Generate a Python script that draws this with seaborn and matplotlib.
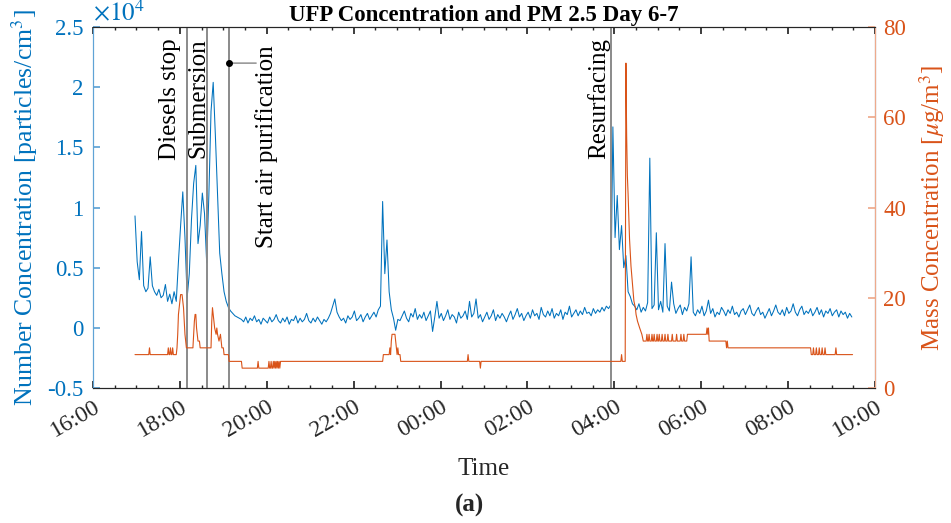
import numpy as np
import pandas as pd
import matplotlib
matplotlib.use("Agg")
import matplotlib.pyplot as plt
import matplotlib.dates as mdates
import matplotlib.transforms as mtransforms
from matplotlib.ticker import FuncFormatter, MultipleLocator
import seaborn as sns

# ---------------- data ----------------
day0 = "2021-01-06 16:00"
x_end = "2021-01-07 10:00"
ufp_start = "2021-01-06 16:58"
ufp_step_min = 3

# UFP number concentration [particles/cm^3], one value every 3 min
ufp_values = [
    9300, 5500, 4000, 8000, 3500, 3000, 3300, 5900, 3500, 3000,
    2700, 3200, 2500, 2700, 3600, 2200, 2800, 2000, 3000, 2200,
    5500, 8500, 11300, 7500, 2500, 4500, 9000, 12000, 13500, 7000,
    8500, 11200, 9500, 5400, 11000, 18000, 20400, 16000, 11000, 6200,
    4500, 3000, 2200, 1700, 1400, 1200, 1000, 900, 800,
    700, 500, 900, 400, 800, 600, 1000, 500, 700, 300,
    800, 600, 400, 900, 500, 700, 1100, 600, 400, 800,
    500, 900, 300, 700, 600, 1000, 400, 800, 500, 700,
    1200, 600, 400, 800, 500, 900, 600, 300, 700, 500,
    800, 1200, 1800, 2400, 1300, 900, 600, 800, 400, 1000,
    700, 900, 1400, 600, 800, 1100, 500, 900, 1200, 700,
    1000, 1300, 900, 1500, 1800,
    10500, 4500, 7300, 3000, 1500, 800, -200, 700,
    600, 1000, 1400, 800, 500, 1200, 900, 1600, 700, 1100,
    800, 1300, 600, 1000, 1400, -300, 900, 2200, 800, 1200,
    600, 1000, 1500, 700, 1100, 900, 400, 1300, 800, 1000,
    1400, 700, 2200, 900, 1200, 2400, 800, 1100, 500, 900,
    1300, 700, 1000, 1500, 600, 1100, 800, 1200, 900, 500,
    1000, 1400, 700, 1100, 1600, 900, 1200, 600, 1000, 1300,
    800, 1500, 1000, 1200, 700, 1700, 1100, 900, 1400, 1000,
    1600, 800, 1200, 1000, 1500, 700, 1300, 1100, 1800, 900,
    1200, 1500, 1000, 1400, 1100, 1700, 1200, 1300, 1000, 1600,
    1200, 1500, 1300, 1700, 1400, 1800, 1600,
    1900,
    16700, 7500, 11000, 6500, 8500, 5000, 6000, 3000, 2600, 2000,
    1800, 1500, 2000, 1300, 1700, 1400, 2100, 14100, 1600, 1900,
    7900, 1500, 2200, 1300, 7000, 1800, 1400, 3800, 2000, 1200,
    1600, 1900, 1100, 1700, 1400, 2000, 5900, 1300, 1000, 1500,
    1200, 1800, 1000, 1400, 2300, 1200, 1600, 900, 1300, 1100,
    1700, 1400, 1000, 1500, 1200, 1800, 1100, 1300, 900, 1400,
    1600, 1100, 1500, 1900, 1200, 1000, 1400, 1700, 1100, 1300,
    800, 1200, 1600, 1000, 1400, 1900, 1300, 1100, 1500, 1000,
    1700, 1200, 1400, 2000, 1300, 1000, 1500, 1800, 1100, 1400,
    1200, 1600, 1000, 1300, 1700, 1100, 1500, 900, 1400, 1200,
    1600, 1000, 1300, 1500, 900, 1400, 1100, 1300, 800, 1200, 900,
]

# PM2.5 mass concentration [ug/m^3]; sample minute after 16:00 and value
pm_minutes = [
    58, 77, 78, 79,
    103, 104, 105, 106, 107, 108, 109, 110, 111,
    115, 116, 117, 118, 119, 120, 121, 123, 124, 125, 126, 127, 128, 129,
    138, 139, 140, 141, 142, 143, 144, 145, 147, 148,
    163, 164, 165, 166, 167, 168, 170, 171, 172, 174, 176, 177, 178, 180, 181,
    187, 188, 205, 206,
    227, 228, 229, 242, 243, 244, 245, 246, 247, 248, 249, 250, 251, 252,
    253, 254, 255, 256, 257, 258, 259, 260,
    400, 401, 409, 410, 411, 412, 413, 417, 418, 419, 420, 421, 422, 424, 425,
    517, 518, 519, 534, 535, 536,
    729, 730, 731, 735, 736, 737, 738, 739, 740, 741, 742, 743, 744, 745,
    746, 747, 749, 750, 752, 755, 758, 760,
    764, 765, 766, 767, 768, 769, 771, 772, 773, 774, 775, 776, 778, 779, 780,
    781, 782, 783, 785, 786, 787, 789, 790, 791, 793, 794, 795, 799, 800, 801,
    805, 806, 807, 811, 812, 813, 815, 816, 817,
    820, 821, 847, 848, 849, 850, 851, 874, 875, 876, 877,
    991, 992, 994, 995, 996, 998, 999, 1000, 1002, 1003, 1004, 1006, 1007,
    1008, 1010, 1011, 1012, 1025, 1026, 1027, 1049,
]
pm_values = [
    7.4, 7.4, 8.9, 7.4,
    7.4, 8.9, 7.4, 7.4, 8.9, 7.4, 7.4, 8.9, 7.4,
    7.4, 8.9, 11.9, 16.3, 17.8, 19.3, 20.7, 20.7, 19.3, 17.8, 14.8, 11.9, 10.4, 8.9,
    8.9, 11.9, 14.8, 16.3, 16.3, 13.3, 11.9, 10.4, 10.4, 8.9,
    8.9, 14.8, 17.8, 16.3, 14.8, 13.3, 11.9, 13.3, 11.9, 10.4, 11.9, 10.4, 8.9, 8.9, 7.4,
    7.4, 5.9, 5.9, 4.4,
    4.4, 5.9, 4.4, 4.4, 5.9, 4.4, 4.4, 5.9, 4.4, 4.4, 5.9, 4.4, 5.9, 4.4,
    5.9, 4.4, 5.9, 4.4, 5.9, 4.4, 5.9, 5.9,
    5.9, 7.4, 7.4, 8.9, 7.4, 10.4, 11.9, 11.9, 10.4, 8.9, 7.4, 8.9, 7.4, 7.4, 5.9,
    5.9, 7.4, 5.9, 5.9, 4.4, 5.9,
    5.9, 7.4, 5.9, 5.9, 72.0, 56.0, 47.0, 43.0, 38.0, 33.0, 30.0, 27.0, 25.0, 23.0,
    21.0, 19.3, 17.8, 16.3, 14.8, 13.3, 11.9, 10.4,
    10.4, 11.9, 10.4, 10.4, 11.9, 10.4, 10.4, 11.9, 10.4, 10.4, 11.9, 10.4, 10.4, 11.9, 10.4,
    10.4, 11.9, 10.4, 10.4, 11.9, 10.4, 10.4, 11.9, 10.4, 10.4, 11.9, 10.4, 10.4, 11.9, 10.4,
    10.4, 11.9, 10.4, 10.4, 11.9, 10.4, 10.4, 11.9, 10.4,
    10.4, 11.9, 11.9, 13.3, 11.9, 13.3, 10.4, 10.4, 8.9, 10.4, 8.9,
    8.9, 7.4, 7.4, 8.9, 7.4, 7.4, 8.9, 7.4, 7.4, 8.9, 7.4, 7.4, 8.9,
    7.4, 7.4, 8.9, 7.4, 7.4, 8.9, 7.4, 7.4,
]

event_labels = ["Diesels stop", "Submersion", "Start air purification", "Resurfacing"]
event_times = ["2021-01-06 18:10", "2021-01-06 18:38", "2021-01-06 19:08", "2021-01-07 03:55"]

# ---------------- style ----------------
BLUE = "#0072BD"
ORANGE = "#D95319"
sns.set_theme(style="ticks")
plt.rcParams["font.family"] = ["Liberation Serif", "DejaVu Serif"]
plt.rcParams["mathtext.fontset"] = "stix"
plt.rcParams["axes.linewidth"] = 0.8

t0 = pd.Timestamp(day0)
df_ufp = pd.DataFrame({
    "time": pd.date_range(ufp_start, periods=len(ufp_values), freq=f"{ufp_step_min}min"),
    "ufp": ufp_values,
})
df_pm = pd.DataFrame({
    "time": t0 + pd.to_timedelta(pm_minutes, unit="min"),
    "pm": pm_values,
})

fig = plt.figure(figsize=(9.51, 5.23), dpi=100)
ax = fig.add_axes([93 / 951, 1 - 388 / 523, 782 / 951, 361 / 523])
ax2 = ax.twinx()

sns.lineplot(data=df_ufp, x="time", y="ufp", ax=ax, color=BLUE, linewidth=0.75,
             estimator=None, sort=False)
sns.lineplot(data=df_pm, x="time", y="pm", ax=ax2, color=ORANGE, linewidth=0.8,
             estimator=None, sort=False)

ax.set_xlim(t0, pd.Timestamp(x_end))
ax.set_ylim(-5000, 25000)
ax2.set_ylim(0, 80)

# event lines and labels
ev_t = [pd.Timestamp(t) for t in event_times]
for t in ev_t:
    ax.axvline(t, color="#8a8a8a", lw=1.4, zorder=5)

blend = mtransforms.blended_transform_factory(ax.transData, ax.transAxes)
offsets = [(-8.0, -8.0), (-2.5, -8.0), (31.5, -13.0), (-4.3, -8.0)]
for lab, t, (dx, dy) in zip(event_labels, ev_t, offsets):
    ax.annotate(lab, xy=(mdates.date2num(t), 1.0), xycoords=blend,
                xytext=(dx, dy), textcoords="offset points",
                rotation=90, rotation_mode="anchor", ha="right", va="baseline",
                fontsize=18, color="black", zorder=6)

# pointer for "Start air purification"
t_air = mdates.date2num(ev_t[2])
ax.annotate("", xy=(t_air, 0.90), xycoords=blend, xytext=(19.5, 0),
            textcoords="offset points",
            arrowprops=dict(arrowstyle="-", color="#777777", lw=0.9,
                            shrinkA=0, shrinkB=0), zorder=6)
ax.plot([t_air], [0.90], marker="o", ms=4, color="black", transform=blend,
        zorder=7, clip_on=False)

# axes formatting
ax.xaxis.set_major_locator(mdates.HourLocator(byhour=range(0, 24, 2)))
ax.xaxis.set_major_formatter(mdates.DateFormatter("%H:%M"))
ax.xaxis.set_minor_locator(mdates.MinuteLocator(byminute=[0, 30]))
ax.yaxis.set_major_locator(MultipleLocator(5000))
ax.yaxis.set_major_formatter(FuncFormatter(lambda v, p: f"{v / 1e4:g}"))
ax2.yaxis.set_major_locator(MultipleLocator(20))

ax.tick_params(axis="x", which="both", direction="in", top=True, bottom=True,
               colors="#262626", labelsize=17, pad=6)
ax.tick_params(axis="x", which="major", length=5)
ax.tick_params(axis="x", which="minor", length=2.5)
ax.tick_params(axis="y", which="both", direction="in", left=True, right=False,
               length=5, colors="#5fa3d6", labelcolor=BLUE, labelsize=16.5, pad=7)
ax2.tick_params(axis="y", which="both", direction="in", right=True, left=False,
                length=5, colors="#eeaa8c", labelcolor=ORANGE, labelsize=16.5, pad=6)
for lbl in ax.get_xticklabels():
    lbl.set_rotation(30)
    lbl.set_ha("right")
    lbl.set_rotation_mode("anchor")

for a in (ax, ax2):
    a.spines["top"].set_color("#262626")
    a.spines["bottom"].set_color("#262626")
ax2.spines["left"].set_color("#5fa3d6")
ax2.spines["right"].set_color("#eeaa8c")
ax.spines["left"].set_color("#5fa3d6")

ax.set_xlabel("Time", fontsize=18, color="#262626", labelpad=12)
ax.set_ylabel("Number Concentration [particles/cm$^3$]", fontsize=18.5, color=BLUE,
              labelpad=5)
ax2.set_ylabel(r"Mass Concentration [$\mu$g/m$^3$]", fontsize=18, color=ORANGE,
               labelpad=8, rotation=90)
ax.text(0.0, 1.005, r"$\times10^{4}$", transform=ax.transAxes, color=BLUE,
        fontsize=18, ha="left", va="bottom")
ax.set_title("UFP Concentration and PM 2.5 Day 6-7", fontsize=16.5,
             fontweight="bold", color="black", pad=4)
fig.text(469 / 951, 1 - 505 / 523, "(a)", fontsize=18, fontweight="bold",
         ha="center", va="center")

fig.savefig("out.png", dpi=100)
